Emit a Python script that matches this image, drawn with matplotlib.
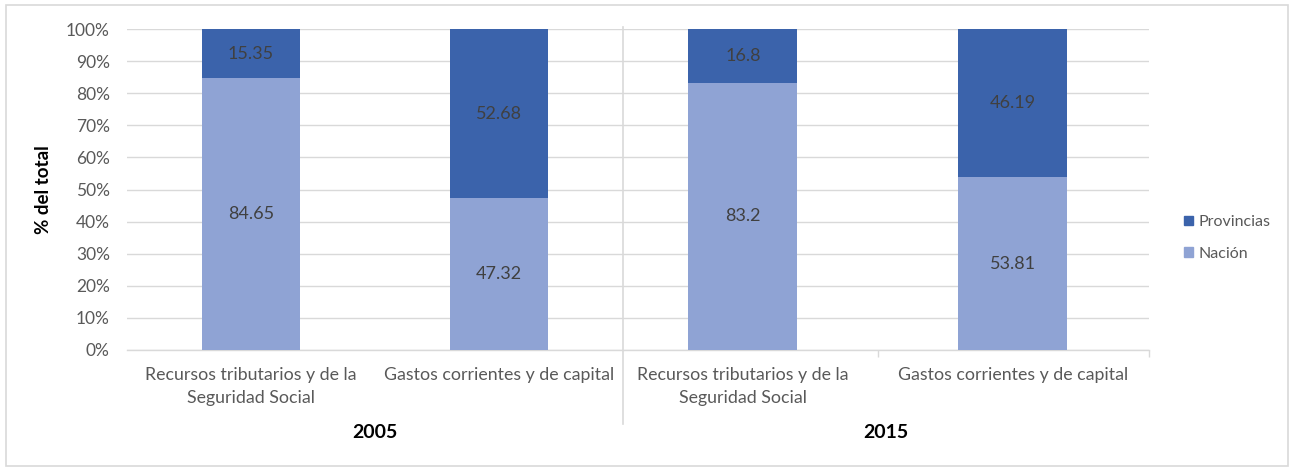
import matplotlib
matplotlib.use("Agg")
import matplotlib.pyplot as plt
from matplotlib.transforms import blended_transform_factory
from matplotlib.lines import Line2D
from matplotlib.patches import Rectangle, Patch

plt.rcParams['font.family'] = ['Lato', 'DejaVu Sans']

years = ["2005", "2015"]
categories = ["Recursos tributarios y de la\nSeguridad Social", "Gastos corrientes y de capital"]
nacion = {"2005": [84.65, 47.32], "2015": [83.2, 53.81]}
provincias = {"2005": [15.35, 52.68], "2015": [16.8, 46.19]}
y_ticks = [0, 10, 20, 30, 40, 50, 60, 70, 80, 90, 100]
y_tick_labels = [f"{v}%" for v in y_ticks]

C_PROV = "#3B63AB"
C_NAC = "#8FA3D4"
GRID = "#D9D9D9"
TXT = "#595959"
LBL = "#404040"

W, H = 1290, 468
fig = plt.figure(figsize=(W / 100, H / 100), dpi=100)

def fx(px):
    return px / W

def fy(py):
    return 1 - py / H

# outer frame
fig.add_artist(Rectangle((fx(6), fy(466)), fx(1288) - fx(6), fy(5) - fy(466),
                         transform=fig.transFigure, fill=False, edgecolor="#D9D9D9", lw=1.2))

y0, y1 = 350, 29
panels = [
    # (px_left, px_right, xlim, bar width)
    (126.5, 623, (-0.502, 1.5), 0.395),
    (623, 1149, (-0.444, 1.504), 0.404),
]

for i, (year, (pl, pr, xl, bw)) in enumerate(zip(years, panels)):
    ax = fig.add_axes([fx(pl), fy(y0), fx(pr) - fx(pl), fy(y1) - fy(y0)])
    x = list(range(len(categories)))
    nac = nacion[year]
    prov = provincias[year]
    ax.bar(x, nac, width=bw, color=C_NAC, zorder=3, label="Nación")
    ax.bar(x, prov, width=bw, bottom=nac, color=C_PROV, zorder=3, label="Provincias")
    for xi, v in zip(x, nac):
        ax.text(xi, v / 2, f"{v:g}", ha="center", va="center", fontsize=13, color=LBL, zorder=4)
    for xi, v, b in zip(x, prov, nac):
        ax.text(xi, b + v / 2, f"{v:g}", ha="center", va="center", fontsize=13, color=LBL, zorder=4)
    ax.set_xlim(*xl)
    ax.set_ylim(0, 100)
    ax.set_yticks(y_ticks)
    ax.grid(axis="y", color=GRID, lw=1, zorder=0)
    for s in ["top", "right", "left"]:
        ax.spines[s].set_visible(False)
    ax.spines["bottom"].set_color(GRID)
    ax.spines["bottom"].set_linewidth(1)
    ax.set_xticks([])
    if i == 0:
        ax.set_yticklabels(y_tick_labels, fontsize=12.5, color=TXT)
        ax.tick_params(axis="y", length=0, pad=12)
        ax.set_ylabel("% del total", fontsize=13.5, fontweight="bold", color="black", labelpad=10)
    else:
        ax.set_yticklabels([])
        ax.tick_params(axis="y", length=0)
        ax.set_xticks([0.5, xl[1]])
        ax.set_xticklabels([])
        ax.tick_params(axis="x", length=5, color=GRID, width=1)
    tr = blended_transform_factory(ax.transData, fig.transFigure)
    for xi, cat in zip(x, categories):
        ax.text(xi, fy(367), cat, transform=tr, ha="center", va="top", fontsize=12.8,
                color=TXT, linespacing=1.5)
    ax.text(sum(xl) / 2, fy(432), year, transform=tr, ha="center", va="center",
            fontsize=14, fontweight="bold", color="black")

# separator between groups
fig.add_artist(Line2D([fx(623), fx(623)], [fy(27), fy(424)], transform=fig.transFigure,
                      color=GRID, lw=1.2))

handles = [Patch(color=C_PROV), Patch(color=C_NAC)]
fig.legend(handles, ["Provincias", "Nación"], loc="center left",
           bbox_to_anchor=(fx(1170), fy(238)), frameon=False, fontsize=11.5,
           labelcolor=TXT, handlelength=0.55, handleheight=0.55, handletextpad=0.35,
           labelspacing=1.1)

fig.savefig("out.png", dpi=100)
